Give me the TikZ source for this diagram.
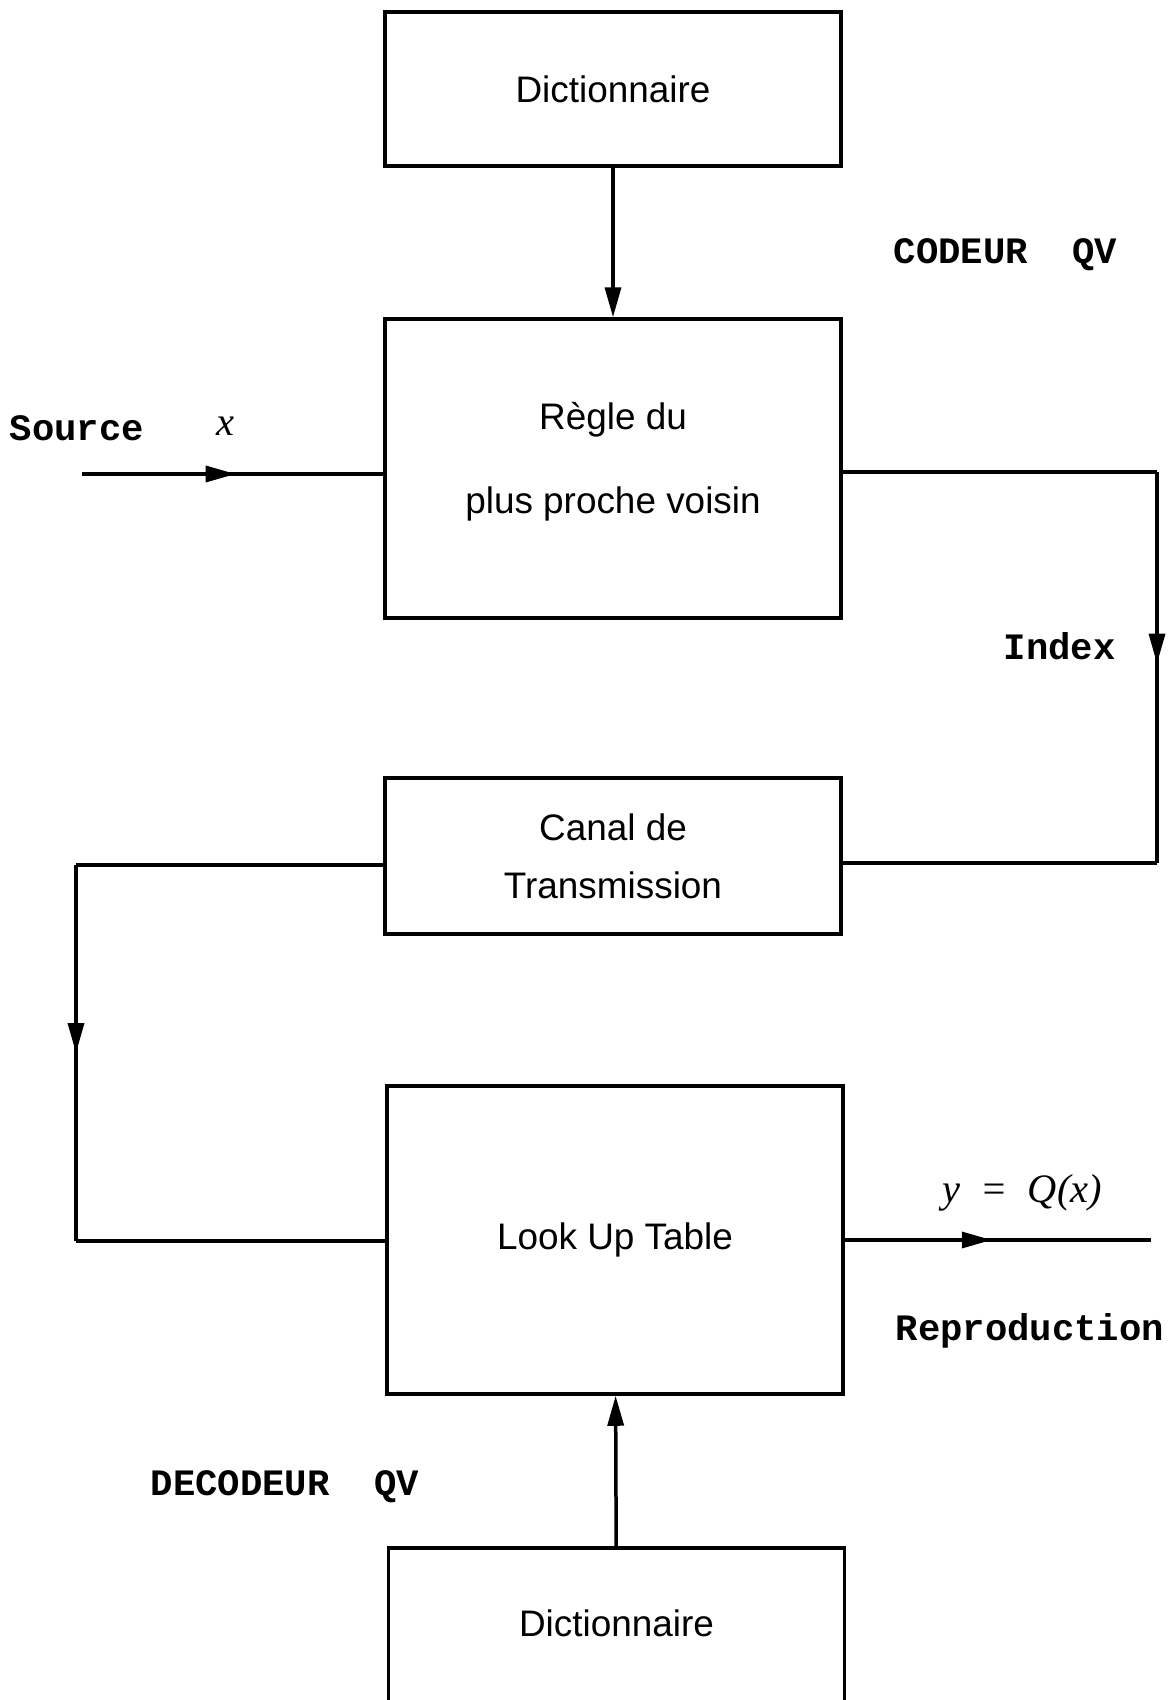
\documentclass[tikz,border=0pt]{standalone}
\usepackage{fontspec}
\usetikzlibrary{arrows.meta,decorations.markings}
\newfontfamily\boxfont{Liberation Sans}
\newfontfamily\labfont{Liberation Mono}
\newfontfamily\varfont{Liberation Serif}

\tikzset{
  bloc/.style={draw, line width=0.035cm, minimum width=4.56cm, inner sep=0pt,
    align=center, font=\boxfont\fontsize{10.5pt}{13pt}\selectfont},
  trait/.style={line width=0.035cm},
  fleche/.style={trait, -{Triangle[length=0.30cm,width=0.16cm]}},
  midarrow/.style={trait, postaction={decorate}, decoration={markings,
    mark=at position #1 with {\arrow{Triangle[length=0.30cm,width=0.16cm]}}}},
  etiq/.style={font=\labfont\bfseries\fontsize{10.6pt}{12pt}\selectfont, inner sep=0pt},
  var/.style={font=\varfont\itshape\fontsize{11.5pt}{13pt}\selectfont, inner sep=0pt}
}

\begin{document}
\begin{tikzpicture}
  \useasboundingbox (0,0) rectangle (11.75,-17);

  % Drawing the boxes
  \node[bloc, minimum height=1.54cm] (dicta) at (6.13,-0.89) {Dictionnaire};
  \node[bloc, minimum height=2.99cm, text depth=6pt] (regle) at (6.13,-4.685) {R\`egle du\\[11pt]plus proche voisin};
  \node[bloc, minimum height=1.56cm] (canal) at (6.13,-8.56) {Canal de\\[3.5pt]Transmission};
  \node[bloc, minimum height=3.08cm] (lut) at (6.15,-12.40) {Look Up Table};
  \node[bloc, minimum height=1.60cm, text depth=2.6pt] (dictb) at (6.165,-16.28) {Dictionnaire};

  % Corner points of the lines
  \coordinate (src) at (0.82,-4.74);
  \coordinate (idxa) at (11.57,-4.72);
  \coordinate (idxb) at (11.57,-8.63);
  \coordinate (cana) at (0.76,-8.65);
  \coordinate (canb) at (0.76,-12.41);
  \coordinate (out) at (11.51,-12.40);

  % Drawing the connectors
  \draw[fleche] (dicta) -- (regle);
  \draw[midarrow=0.51] (src) -- (src -| regle.west);
  \draw[trait] (regle.east |- idxa) -- (idxa);
  \draw[midarrow=0.49] (idxa) -- (idxb);
  \draw[trait] (idxb) -- (idxb -| canal.east);
  \draw[trait] (canal.west |- cana) -- (cana);
  \draw[midarrow=0.5] (cana) -- (canb);
  \draw[trait] (canb) -- (canb -| lut.west);
  \draw[midarrow=0.48] (lut.east) -- (out);
  \draw[fleche] (dictb) -- (lut);

  % Writing the labels
  \node[etiq, anchor=west] (source) at (0.09,-4.28) {Source};
  \node[var] (xin) at (2.25,-4.26) {x};
  \node[etiq, anchor=west] (codeur) at (8.93,-2.55) {CODEUR~~QV};
  \node[etiq, anchor=west] (index) at (10.03,-6.46) {Index};
  \node[var] (yout) at (10.22,-11.93) {y~~=~~Q(x)};
  \node[etiq, anchor=west] (repro) at (8.95,-13.31) {Reproduction};
  \node[etiq, anchor=west] (decodeur) at (1.50,-14.87) {DECODEUR~~QV};
\end{tikzpicture}
\end{document}
